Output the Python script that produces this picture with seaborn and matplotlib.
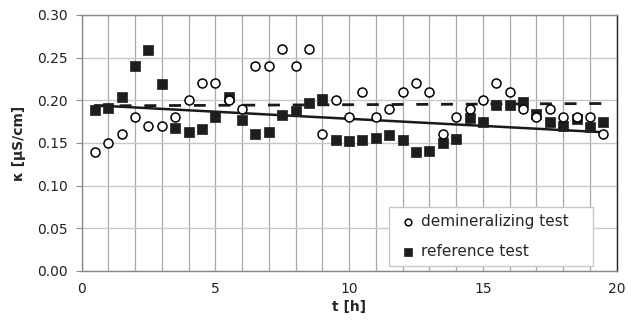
import numpy as np
import pandas as pd
import matplotlib
matplotlib.use("Agg")
import matplotlib.pyplot as plt
import seaborn as sns

# time of each sample [h]
t_h = [0.5, 1.0, 1.5, 2.0, 2.5, 3.0, 3.5, 4.0, 4.5, 5.0,
       5.5, 6.0, 6.5, 7.0, 7.5, 8.0, 8.5, 9.0, 9.5, 10.0,
       10.5, 11.0, 11.5, 12.0, 12.5, 13.0, 13.5, 14.0, 14.5, 15.0,
       15.5, 16.0, 16.5, 17.0, 17.5, 18.0, 18.5, 19.0, 19.5]

# conductivity, demineralizing test [uS/cm]
kappa_demin = [0.14, 0.15, 0.16, 0.18, 0.17, 0.17, 0.18, 0.20, 0.22, 0.22,
               0.20, 0.19, 0.24, 0.24, 0.26, 0.24, 0.26, 0.16, 0.20, 0.18,
               0.21, 0.18, 0.19, 0.21, 0.22, 0.21, 0.16, 0.18, 0.19, 0.20,
               0.22, 0.21, 0.19, 0.18, 0.19, 0.18, 0.18, 0.18, 0.16]

# conductivity, reference test [uS/cm]
kappa_ref = [0.189, 0.191, 0.204, 0.240, 0.259, 0.219, 0.167, 0.163, 0.166, 0.180,
             0.204, 0.177, 0.160, 0.163, 0.183, 0.188, 0.197, 0.202, 0.154, 0.152,
             0.153, 0.156, 0.159, 0.153, 0.139, 0.141, 0.150, 0.155, 0.179, 0.175,
             0.195, 0.194, 0.198, 0.184, 0.175, 0.170, 0.178, 0.169, 0.175]

labels = ["demineralizing test", "reference test"]

df = pd.DataFrame({"t": t_h, "demin": kappa_demin, "ref": kappa_ref})

sns.set_style("white")
plt.rcParams['font.family'] = ['DejaVu Sans']

fig = plt.figure(figsize=(6.34, 3.23), dpi=100)
ax = fig.add_axes([0.1286, 0.161, 0.8441, 0.7926])

# linear trend lines (like spreadsheet trendlines)
sns.regplot(data=df, x="t", y="demin", scatter=False, ci=None, ax=ax,
            line_kws=dict(color="#1a1a1a", lw=2.0, dashes=(4.3, 4.6)))
sns.regplot(data=df, x="t", y="ref", scatter=False, ci=None, ax=ax,
            line_kws=dict(color="#1a1a1a", lw=1.8))

sns.scatterplot(data=df, x="t", y="demin", ax=ax, marker="o", s=42,
                facecolor="white", edgecolor="black", linewidth=1.1,
                label=labels[0], zorder=4)
sns.scatterplot(data=df, x="t", y="ref", ax=ax, marker="s", s=50,
                color="#1e1e1e", edgecolor="#1e1e1e", linewidth=0.5,
                label=labels[1], zorder=3)

ax.set_xlim(0, 20)
ax.set_ylim(0, 0.30)
ax.set_xticks([0, 5, 10, 15, 20])
ax.set_xticks(np.arange(0, 21, 1), minor=True)
ax.set_yticks(np.arange(0, 0.31, 0.05))
ax.set_yticklabels([f"{v:.2f}" for v in np.arange(0, 0.31, 0.05)])

ax.grid(True, which="major", axis="y", color="#c8c8c8", lw=1.0)
ax.grid(True, which="both", axis="x", color="#a8a8a8", lw=0.9)
ax.set_axisbelow(True)

for side in ["left", "bottom", "right", "top"]:
    ax.spines[side].set_visible(True)
    ax.spines[side].set_color("#8a8a8a")
    ax.spines[side].set_linewidth(1.0)
ax.spines["right"].set_color("#222222")

ax.tick_params(axis="both", which="both", labelsize=10, color="#8a8a8a",
               length=0, labelcolor="#222222")
ax.tick_params(axis="y", which="major", length=4, direction="out", left=True, pad=6)
ax.tick_params(axis="x", which="major", pad=8)

ax.set_xlabel("t [h]", fontsize=10, fontweight="bold", labelpad=3)
ax.set_ylabel("κ [µS/cm]", fontsize=10, fontweight="bold", labelpad=8)

leg = ax.legend(loc="lower left", bbox_to_anchor=(0.5746, 0.018, 0.381, 0.24),
                mode="expand", fontsize=11, frameon=True, fancybox=False,
                framealpha=1, edgecolor="#c8c8c8", handletextpad=0.1,
                labelspacing=0.95, borderpad=0.5, handlelength=1.5,
                markerscale=0.75, borderaxespad=0)
leg.get_frame().set_linewidth(1.0)

fig.savefig("out.png", dpi=100)
